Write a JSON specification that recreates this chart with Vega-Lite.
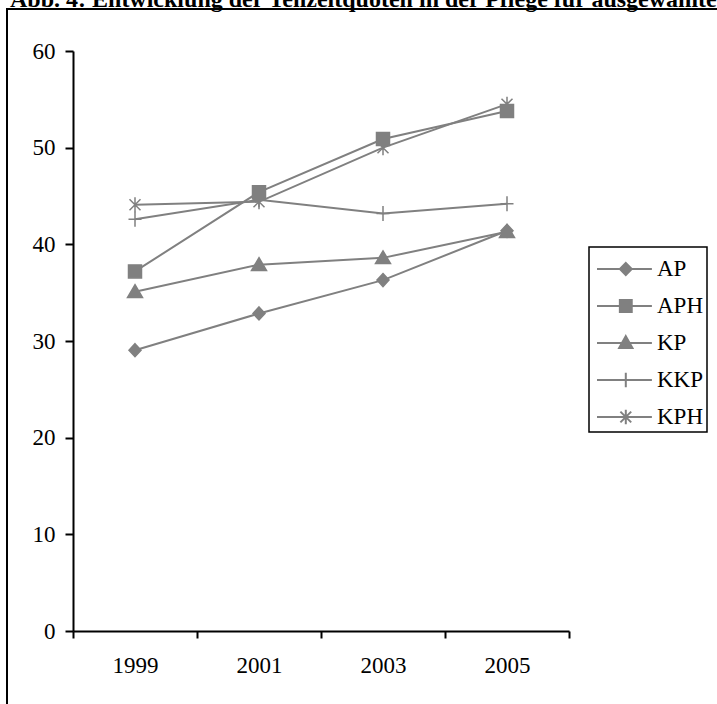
{
  "$schema": "https://vega.github.io/schema/vega-lite/v6.json",
  "width": 496,
  "height": 580,
  "autosize": {"type": "none"},
  "padding": {"left": 73, "top": 51, "right": 148, "bottom": 73},
  "background": "white",
  "title": {
    "text": "Abb. 4: Entwicklung der Teilzeitquoten in der Pflege für ausgewählte Berufe",
    "anchor": "start",
    "frame": "group",
    "font": "Liberation Serif",
    "fontSize": 24,
    "fontWeight": "bold",
    "color": "black",
    "baseline": "alphabetic",
    "offset": 0,
    "dx": -63,
    "dy": 23,
    "limit": 2000
  },
  "config": {
    "view": {"stroke": null},
    "font": "Liberation Serif",
    "legend": {
      "orient": "none",
      "legendX": 516,
      "legendY": 196,
      "strokeColor": "black",
      "strokeWidth": 1.5,
      "fillColor": "white",
      "padding": 3,
      "symbolSize": 1296,
      "symbolStrokeWidth": 2,
      "symbolFillColor": "#808080",
      "symbolStrokeColor": "#808080",
      "symbolOpacity": 1,
      "symbolOffset": 4,
      "labelOffset": 23,
      "labelFont": "Liberation Serif",
      "labelFontSize": 23,
      "labelColor": "black",
      "rowPadding": 6
    }
  },
  "data": {
    "values": [
      {"series": "AP", "year": 1999, "value": 29.05},
      {"series": "AP", "year": 2001, "value": 32.85},
      {"series": "AP", "year": 2003, "value": 36.3},
      {"series": "AP", "year": 2005, "value": 41.4},
      {"series": "APH", "year": 1999, "value": 37.2},
      {"series": "APH", "year": 2001, "value": 45.4},
      {"series": "APH", "year": 2003, "value": 50.9},
      {"series": "APH", "year": 2005, "value": 53.8},
      {"series": "KP", "year": 1999, "value": 35.1},
      {"series": "KP", "year": 2001, "value": 37.9},
      {"series": "KP", "year": 2003, "value": 38.6},
      {"series": "KP", "year": 2005, "value": 41.3},
      {"series": "KKP", "year": 1999, "value": 42.6},
      {"series": "KKP", "year": 2001, "value": 44.6},
      {"series": "KKP", "year": 2003, "value": 43.2},
      {"series": "KKP", "year": 2005, "value": 44.2},
      {"series": "KPH", "year": 1999, "value": 44.1},
      {"series": "KPH", "year": 2001, "value": 44.4},
      {"series": "KPH", "year": 2003, "value": 50.0},
      {"series": "KPH", "year": 2005, "value": 54.5}
    ]
  },
  "resolve": {"scale": {"shape": "independent"}},
  "layer": [
    {
      "data": {"values": [{"frame": 1}]},
      "mark": {"type": "rect", "fill": null, "stroke": "black", "strokeWidth": 2},
      "encoding": {
        "x": {"value": -66},
        "x2": {"value": 700},
        "y": {"value": -42},
        "y2": {"value": 700}
      }
    },
    {
      "mark": {"type": "line", "color": "#808080", "strokeWidth": 2},
      "encoding": {
        "x": {
          "field": "year",
          "type": "quantitative",
          "scale": {"domain": [1998, 2006], "nice": false, "zero": false},
          "axis": {
            "title": null,
            "values": [1998, 1999, 2000, 2001, 2002, 2003, 2004, 2005, 2006],
            "format": "d",
            "labelExpr": "datum.value % 2 == 1 ? datum.label : ''",
            "tickOpacity": {"condition": {"test": "datum.value % 2 == 1", "value": 0}, "value": 1},
            "grid": false,
            "domainColor": "black",
            "domainWidth": 2,
            "tickColor": "black",
            "tickWidth": 2,
            "tickSize": 7,
            "labelFont": "Liberation Serif",
            "labelFontSize": 23,
            "labelColor": "black",
            "labelPadding": 16,
            "labelOverlap": false,
            "labelFlush": false,
            "labelBound": false
          }
        },
        "y": {
          "field": "value",
          "type": "quantitative",
          "scale": {"domain": [0, 60], "nice": false},
          "axis": {
            "title": null,
            "values": [0, 10, 20, 30, 40, 50, 60],
            "grid": false,
            "domainColor": "black",
            "domainWidth": 2,
            "tickColor": "black",
            "tickWidth": 2,
            "tickSize": 8,
            "labelFont": "Liberation Serif",
            "labelFontSize": 23,
            "labelColor": "black",
            "labelPadding": 10
          }
        },
        "detail": {"field": "series"}
      }
    },
    {
      "mark": {"type": "point", "filled": true, "fill": "#808080", "stroke": "#808080", "strokeWidth": 1.5, "size": 100, "opacity": 1},
      "encoding": {
        "x": {"field": "year", "type": "quantitative"},
        "y": {"field": "value", "type": "quantitative"},
        "shape": {
          "field": "series",
          "type": "nominal",
          "scale": {
            "domain": ["AP", "APH", "KP", "KKP", "KPH"],
            "range": [
              "M0,-1.3L1.2,0L0,1.3L-1.2,0Z",
              "M-1.3,-1.3L1.3,-1.3L1.3,1.3L-1.3,1.3Z",
              "M0,-1.4L1.5,1.15L-1.5,1.15Z",
              "M-1.3,0L1.3,0M0,-1.5L0,1.5",
              "M-1.1,-1.1L1.1,1.1M-1.1,1.1L1.1,-1.1M0,-1.5L0,1.5"
            ]
          },
          "legend": null
        }
      }
    },
    {
      "mark": {"type": "point", "filled": true, "fill": "#808080", "stroke": "#808080", "strokeWidth": 2, "size": 1296, "opacity": 0},
      "encoding": {
        "x": {"field": "year", "type": "quantitative"},
        "y": {"field": "value", "type": "quantitative"},
        "shape": {
          "field": "series",
          "type": "nominal",
          "scale": {
            "domain": ["AP", "APH", "KP", "KKP", "KPH"],
            "range": [
              "M-1,0L2.05,0M0.6,-0.34L0.93,0L0.6,0.34L0.27,0Z",
              "M-1,0L2.05,0M0.27,-0.34L0.93,-0.34L0.93,0.34L0.27,0.34Z",
              "M-1,0L2.05,0M0.6,-0.38L0.97,0.28L0.23,0.28Z",
              "M-1,0L2.05,0M0.6,-0.4L0.6,0.4",
              "M-1,0L2.05,0M0.3,-0.3L0.9,0.3M0.3,0.3L0.9,-0.3M0.6,-0.4L0.6,0.4"
            ]
          },
          "legend": {
            "title": null,
            "encoding": {
              "symbols": {
                "fill": {"value": "#808080"},
                "stroke": {"value": "#808080"},
                "strokeWidth": {"value": 2},
                "opacity": {"value": 1}
              }
            }
          }
        }
      }
    }
  ]
}
